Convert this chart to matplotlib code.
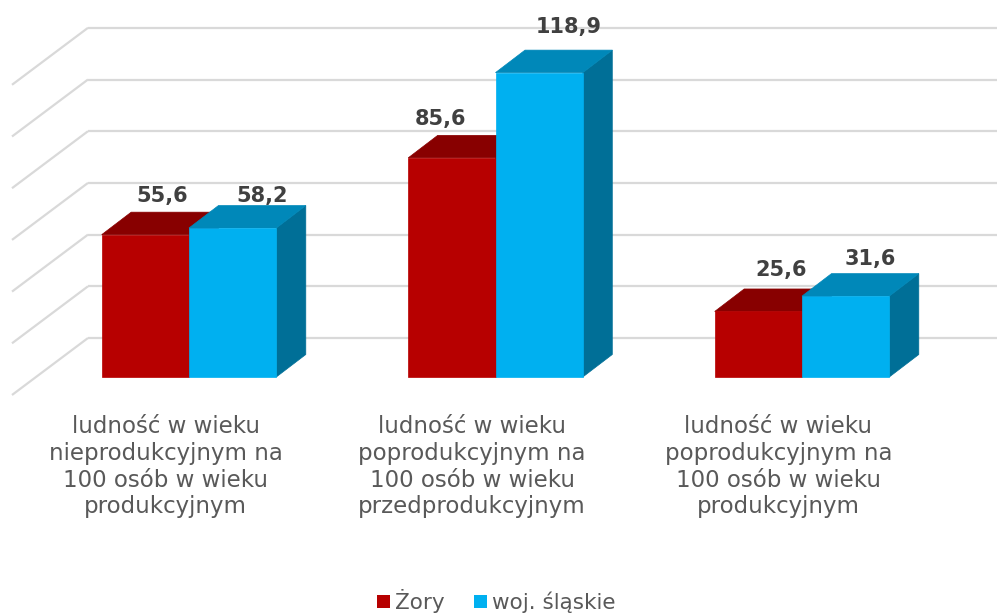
import matplotlib
matplotlib.use("Agg")
import matplotlib.pyplot as plt
from matplotlib.patches import Polygon, Patch

# ---------------- data ----------------
categories = [
    "ludność w wieku\nnieprodukcyjnym na\n100 osób w wieku\nprodukcyjnym",
    "ludność w wieku\npoprodukcyjnym na\n100 osób w wieku\nprzedprodukcyjnym",
    "ludność w wieku\npoprodukcyjnym na\n100 osób w wieku\nprodukcyjnym",
]
series_names = ["Żory", "woj. śląskie"]
zory = [55.6, 85.6, 25.6]
slaskie = [58.2, 118.9, 31.6]
grid_values = [0, 20, 40, 60, 80, 100, 120]

# ---------------- style ----------------
W, H, DPI = 997, 613, 100
PX_CAT = 306.5          # pixels per category step
PX_VAL = 2.56           # pixels per value unit
BASE_PX_Y = 377         # pixel row of value 0 (front)
FIRST_CENTER_PX = 189   # pixel column of first group centre

front_cols = ["#B70000", "#00B0F0"]
top_cols = ["#880000", "#0088B9"]
side_cols = ["#7A0000", "#006F97"]
grid_col = "#D9D9D9"

bar_w = 87.3 / PX_CAT
ddx = 29.5 / PX_CAT
ddy = 22.5 / PX_VAL
wall_x0 = (88 - FIRST_CENTER_PX) / PX_CAT
wall_base = (BASE_PX_Y - 338) / PX_VAL
wall_scale = 51.7 / (20 * PX_VAL)
diag_dx = -76 / PX_CAT
diag_dy = -57 / PX_VAL

# per-label pixel offsets relative to the centre of the bar's back top edge
label_off = {
    (0, 0): (-13, 10), (0, 1): (0, 4),
    (1, 0): (-41, 10), (1, 1): (0, 17),
    (2, 0): (-7, 13), (2, 1): (-5, 9),
}

fig = plt.figure(figsize=(W / DPI, H / DPI), dpi=DPI)
ax = fig.add_axes([0, 0, 1, 1])
ax.set_xlim(-FIRST_CENTER_PX / PX_CAT, (W - FIRST_CENTER_PX) / PX_CAT)
ax.set_ylim(-(H - BASE_PX_Y) / PX_VAL, BASE_PX_Y / PX_VAL)
ax.axis("off")

# ---------- gridlines (back wall + side wall diagonals) ----------
xmax = ax.get_xlim()[1]
for g in grid_values:
    yy = wall_base + g * wall_scale
    ax.plot([wall_x0, xmax], [yy, yy], color=grid_col, lw=1.6, zorder=1,
            solid_capstyle="butt")
    ax.plot([wall_x0, wall_x0 + diag_dx], [yy, yy + diag_dy], color=grid_col,
            lw=1.6, zorder=1, solid_capstyle="butt")


def draw_bar(x0, h, k, z):
    x1 = x0 + bar_w
    front = [(x0, 0), (x1, 0), (x1, h), (x0, h)]
    top = [(x0, h), (x1, h), (x1 + ddx, h + ddy), (x0 + ddx, h + ddy)]
    side = [(x1, 0), (x1 + ddx, ddy), (x1 + ddx, h + ddy), (x1, h)]
    for poly, col in ((side, side_cols[k]), (top, top_cols[k]), (front, front_cols[k])):
        ax.add_patch(Polygon(poly, closed=True, facecolor=col, edgecolor=col,
                             lw=0.5, zorder=z))


for i in range(len(categories)):
    for k, vals in enumerate([zory, slaskie]):
        x0 = i - bar_w + k * bar_w
        h = vals[i]
        draw_bar(x0, h, k, 3 + k)
        ox, oy = label_off[(i, k)]
        ax.annotate(f"{h:.1f}".replace(".", ","),
                    xy=(x0 + bar_w / 2 + ddx, h + ddy),
                    xytext=(ox * 72 / DPI, oy * 72 / DPI), textcoords="offset points",
                    ha="center", va="baseline", fontsize=15, fontweight="bold",
                    color="#404040", family="DejaVu Sans", zorder=10)

# ---------- category labels ----------
label_shift = 23.5 / PX_CAT
label_top = -(415 - BASE_PX_Y) / PX_VAL
for i, c in enumerate(categories):
    ax.text(i - label_shift, label_top, c, ha="center", va="top",
            fontsize=16.5, color="#595959", family="DejaVu Sans",
            linespacing=1.21, zorder=10)

# ---------- legend ----------
handles = [Patch(facecolor=front_cols[k], edgecolor="none", label=series_names[k])
           for k in range(2)]
leg = fig.legend(handles=handles, loc="lower center", bbox_to_anchor=(0.498, -0.032),
                 ncol=2, frameon=False, handlelength=0.6,
                 handleheight=0.6, handletextpad=0.25, columnspacing=1.35,
                 prop={"family": "DejaVu Sans", "size": 15.5})
for t in leg.get_texts():
    t.set_color("#595959")

fig.savefig("out.png", dpi=DPI)
